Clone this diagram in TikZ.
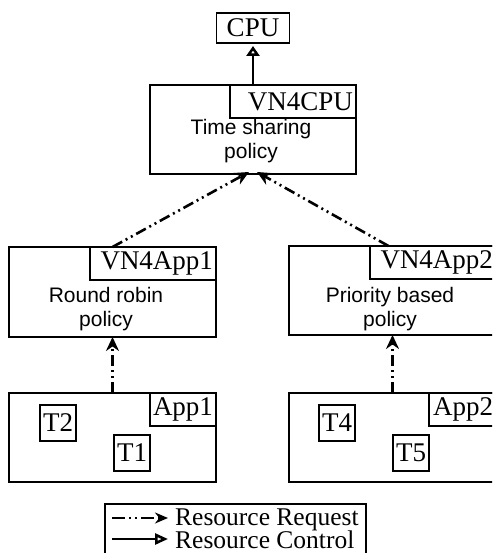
\documentclass[tikz,border=0pt]{standalone}
\usepackage{fontspec}
\setmainfont{Liberation Serif}
\newfontfamily\sansf{Liberation Sans}
\usetikzlibrary{arrows.meta,calc}
\begin{document}
\begin{tikzpicture}[x=1pt,y=-1pt,
  box/.style={draw, line width=1.6pt, rectangle, inner sep=0pt, outer sep=0pt},
  lab/.style={draw, line width=1.6pt, inner xsep=3pt, inner ysep=0pt, outer sep=0pt,
    font=\fontsize{27}{30}\selectfont, align=right, minimum height=33pt, anchor=north east},
  tbox/.style={draw, line width=1.6pt, inner sep=0pt, outer sep=0pt, minimum width=36pt,
    minimum height=36pt, font=\fontsize{27}{30}\selectfont},
  pol/.style={align=center, inner sep=0pt, font=\sansf\fontsize{21}{24}\selectfont},
  legt/.style={inner sep=0pt, font=\fontsize{25.5}{26}\selectfont},
  req/.style={line width=2.6pt, dash pattern=on 11pt off 4pt on 2pt off 4pt on 2pt off 4pt,
    -{Stealth[length=14pt,width=13pt]}},
  ctl/.style={line width=2.6pt, -{Triangle[open,length=10pt,width=13pt]}}
]
\clip (0,0) rectangle (492,553);
\fill[white] (0,0) rectangle (492,553);

% CPU
\node[box, minimum width=73pt, minimum height=30pt, font=\fontsize{27}{30}\selectfont] (cpu) at (253,28) {CPU};

% VN4CPU
\node[box, minimum width=206pt, minimum height=89pt] (vcpu) at (253,129.5) {};
\node[lab, text width=120pt] (vcpul) at (vcpu.north east) {VN4CPU};
\node[pol] (pcpu) at (251,141) {Time sharing\\policy};

% VN4App1
\node[box, minimum width=207pt, minimum height=90pt] (v1) at (112.5,292) {};
\node[lab, text width=120pt] (v1l) at (v1.north east) {VN4App1};
\node[pol] (p1) at (106,309) {Round robin\\policy};

% VN4App2
\node[box, minimum width=207pt, minimum height=89pt] (v2) at (392.5,290.5) {};
\node[lab, text width=120pt] (v2l) at (v2.north east) {VN4App2};
\node[pol] (p2) at (390,309) {Priority based\\policy};

% App1
\node[box, minimum width=207pt, minimum height=89pt] (a1) at (112.5,437.5) {};
\node[lab, text width=60pt] (a1l) at (a1.north east) {App1};
\node[tbox] (t2) at (58,423) {T2};
\node[tbox] (t1) at (132,453) {T1};

% App2
\node[box, minimum width=207pt, minimum height=89pt] (a2) at (392.5,437.5) {};
\node[lab, text width=61pt] (a2l) at (a2.north east) {App2};
\node[tbox] (t4) at (337,423) {T4};
\node[tbox] (t5) at (411,453) {T5};

% connectors
\draw[ctl, shorten >=3pt] (vcpu.north) -- (cpu.south);
\draw[req] (a1.north) -- (v1.south);
\draw[req] (a2.north) -- (v2.south);
\draw[req] (v1.north) -- ([xshift=-4pt,yshift=2pt]vcpu.south);
\draw[req] ([xshift=-4pt]v2.north) -- ([xshift=4pt,yshift=2pt]vcpu.south);

% legend
\node[box, minimum width=261pt, minimum height=62pt, anchor=north west] (leg) at (105,504) {};
\coordinate (r1s) at (112,518);
\coordinate (r1e) at (168,518);
\coordinate (r2s) at (112,539);
\coordinate (r2e) at (168,539);
\draw[line width=2.6pt, dash pattern=on 13pt off 4pt on 2pt off 4pt on 2pt off 4pt,
  -{Stealth[length=13pt,width=11pt]}] (r1s) -- (r1e);
\draw[line width=2.6pt, -{Triangle[open,length=13pt,width=11pt]}] (r2s) -- (r2e);
\node[legt, anchor=base west] (lt1) at (175,525) {Resource Request};
\node[legt, anchor=base west] (lt2) at (175,548) {Resource Control};
\end{tikzpicture}
\end{document}
